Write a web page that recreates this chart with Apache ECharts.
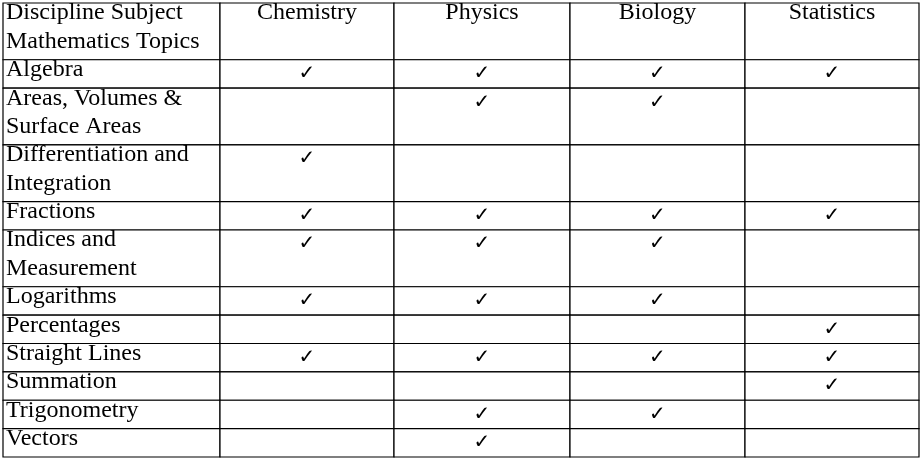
<!DOCTYPE html>
<html>
<head>
<meta charset="utf-8">
<script src="https://cdn.jsdelivr.net/npm/echarts@6/dist/echarts.min.js"></script>
<style>
  html, body { margin: 0; padding: 0; background: #fff; }
  #chart { width: 922px; height: 462px; }
</style>
</head>
<body>
<div id="chart"></div>
<script>
var headerText = "Discipline Subject\nMathematics Topics";
var disciplines = ["Chemistry", "Physics", "Biology", "Statistics"];
var topics = [
  "Algebra",
  "Areas, Volumes &\nSurface Areas",
  "Differentiation and\nIntegration",
  "Fractions",
  "Indices and\nMeasurement",
  "Logarithms",
  "Percentages",
  "Straight Lines",
  "Summation",
  "Trigonometry",
  "Vectors"
];
// which disciplines use each topic (C, P, B, S)
var checks = [
  [1, 1, 1, 1],
  [0, 1, 1, 0],
  [1, 0, 0, 0],
  [1, 1, 1, 1],
  [1, 1, 1, 0],
  [1, 1, 1, 0],
  [0, 0, 0, 1],
  [1, 1, 1, 1],
  [0, 0, 0, 1],
  [0, 1, 1, 0],
  [0, 1, 0, 0]
];

// layout: column edges in px units, rows measured in text lines
var colEdges = [0, 217, 391, 567, 742, 916];
var rowTexts = [headerText].concat(topics);
var rowStart = [];
var acc = 0;
for (var i = 0; i < rowTexts.length; i++) {
  rowStart.push(acc);
  acc += rowTexts[i].split("\n").length;
}
rowStart.push(acc);

var cells = [];
for (var r = 0; r < rowTexts.length; r++) {
  for (var c = 0; c < 5; c++) {
    var txt = "";
    if (c === 0) txt = rowTexts[r];
    else if (r === 0) txt = disciplines[c - 1];
    else if (checks[r - 1][c - 1]) txt = "✓";
    cells.push([c, r, txt]);
  }
}

var myChart = echarts.init(document.getElementById("chart"));
myChart.setOption({
  animation: false,
  grid: { left: 3, right: 3, top: 3, bottom: 5 },
  xAxis: { type: "value", min: 0, max: 916, show: false },
  yAxis: { type: "value", min: 0, max: acc, inverse: true, show: false },
  series: [{
    type: "custom",
    data: cells,
    renderItem: function (params, api) {
      var c = api.value(0), r = api.value(1);
      var txt = cells[params.dataIndex][2];
      var p0 = api.coord([colEdges[c], rowStart[r]]);
      var p1 = api.coord([colEdges[c + 1], rowStart[r + 1]]);
      var children = [{
        type: "rect",
        shape: { x: p0[0], y: p0[1], width: p1[0] - p0[0], height: p1[1] - p0[1] },
        style: { fill: "#fff", stroke: "#000", lineWidth: 1.2 }
      }];
      if (txt) {
        var isLabel = c === 0;
        var isCheck = txt === "✓";
        children.push({
          type: "text",
          x: isLabel ? p0[0] + 3 : (p0[0] + p1[0]) / 2,
          y: p0[1] + (isCheck ? 0 : -4),
          style: {
            text: txt,
            fill: "#000",
            font: isCheck ? '20px "DejaVu Sans", sans-serif'
                          : '24px "Liberation Serif", "DejaVu Serif", serif',
            lineHeight: 28.4,
            align: isLabel ? "left" : "center",
            verticalAlign: "top"
          }
        });
      }
      return { type: "group", children: children };
    }
  }]
});
</script>
</body>
</html>
